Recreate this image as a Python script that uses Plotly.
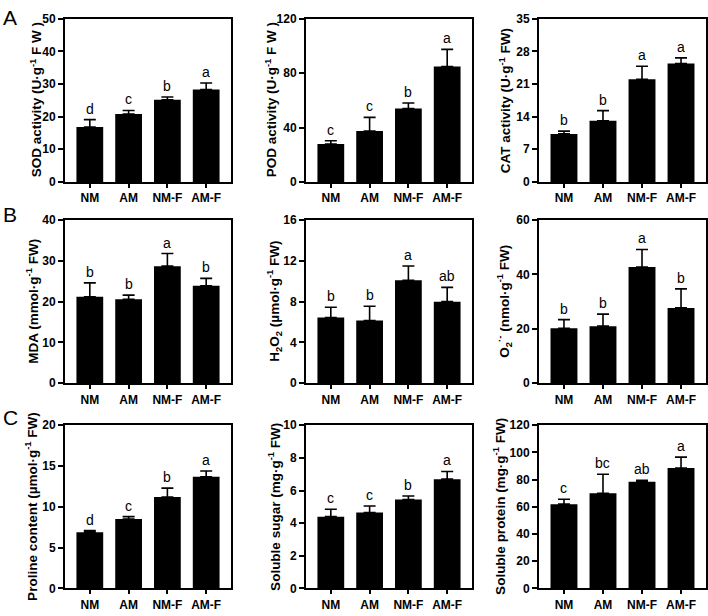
import plotly.graph_objects as go

categories = ["NM", "AM", "NM-F", "AM-F"]

sod_mean = [16.8, 20.8, 25.2, 28.3]
sod_err = [2.3, 1.1, 0.8, 2.0]
sod_letters = ["d", "c", "b", "a"]

pod_mean = [27.9, 37.5, 54.0, 84.8]
pod_err = [2.4, 10.0, 4.0, 12.7]
pod_letters = ["c", "c", "b", "a"]

cat_mean = [10.3, 13.1, 22.0, 25.4]
cat_err = [0.6, 2.2, 2.8, 1.2]
cat_letters = ["b", "b", "a", "a"]

mda_mean = [21.2, 20.6, 28.7, 23.9]
mda_err = [3.4, 1.0, 3.1, 1.8]
mda_letters = ["b", "b", "a", "b"]

h2o2_mean = [6.45, 6.15, 10.1, 8.0]
h2o2_err = [1.0, 1.4, 1.4, 1.4]
h2o2_letters = ["b", "b", "a", "ab"]

o2_mean = [20.2, 21.0, 42.7, 27.7]
o2_err = [3.2, 4.4, 6.5, 7.0]
o2_letters = ["b", "b", "a", "b"]

pro_mean = [6.9, 8.5, 11.2, 13.7]
pro_err = [0.2, 0.3, 1.1, 0.7]
pro_letters = ["d", "c", "b", "a"]

sugar_mean = [4.4, 4.65, 5.45, 6.7]
sugar_err = [0.45, 0.4, 0.22, 0.47]
sugar_letters = ["c", "c", "b", "a"]

prot_mean = [62.0, 70.0, 78.5, 88.6]
prot_err = [3.6, 14.0, 1.0, 8.0]
prot_letters = ["c", "bc", "ab", "a"]

titles = [
    "SOD activity (U·g<sup>-1</sup> F W )",
    "POD activity (U·g<sup>-1</sup> F W )",
    "CAT activity (U·g<sup>-1</sup> FW)",
    "MDA (mmol·g<sup>-1</sup> FW)",
    "H<sub>2</sub>O<sub>2</sub> (µmol·g<sup>-1</sup> FW)",
    "O<sub>2</sub><sup>·-</sup> (nmol·g<sup>-1</sup> FW)",
    "Proline content (µmol·g<sup>-1</sup> FW)",
    "Soluble sugar (mg·g<sup>-1</sup> FW)",
    "Soluble protein (mg·g<sup>-1</sup> FW)",
]
ymax = [50, 120, 35, 40, 16, 60, 20, 10, 120]
dticks = [10, 40, 7, 10, 4, 20, 5, 2, 20]

panels = [
    (sod_mean, sod_err, sod_letters),
    (pod_mean, pod_err, pod_letters),
    (cat_mean, cat_err, cat_letters),
    (mda_mean, mda_err, mda_letters),
    (h2o2_mean, h2o2_err, h2o2_letters),
    (o2_mean, o2_err, o2_letters),
    (pro_mean, pro_err, pro_letters),
    (sugar_mean, sugar_err, sugar_letters),
    (prot_mean, prot_err, prot_letters),
]

W, H = 708, 616
col_x = [(65, 231), (306, 472), (539, 706)]
row_y = [(12, 179), (218, 385), (428, 595)]
title_x = [[36, 271, 505], [32, 274, 504], [31, 274, 499]]
panel_letters = [("A", 10, 11), ("B", 10, 212), ("C", 10, 420)]

FONT = "Liberation Sans, Arial, sans-serif"

fig = go.Figure()
annotations = []
layout = {}
for i, (mean, err, letters) in enumerate(panels):
    r, c = divmod(i, 3)
    n = i + 1
    xa = "x" if n == 1 else f"x{n}"
    ya = "y" if n == 1 else f"y{n}"
    fig.add_trace(go.Bar(
        x=list(range(len(categories))), y=mean,
        xaxis=xa, yaxis=ya,
        marker=dict(color="black", line=dict(width=0)),
        width=0.69,
        error_y=dict(type="data", symmetric=False, array=err,
                     arrayminus=[0] * len(err), color="black",
                     thickness=1.6, width=6),
        showlegend=False,
    ))
    x0, x1 = col_x[c]
    y0, y1 = row_y[r]
    xkey = "xaxis" if n == 1 else f"xaxis{n}"
    ykey = "yaxis" if n == 1 else f"yaxis{n}"
    layout[xkey] = dict(
        domain=[x0 / W, x1 / W], anchor=ya, range=[-0.64, 3.64],
        tickmode="array", tickvals=list(range(len(categories))),
        ticktext=categories, showline=True, linecolor="black", linewidth=2,
        mirror=True, ticks="outside", ticklen=4, tickwidth=1.5,
        tickcolor="black", showgrid=False, zeroline=False,
        tickfont=dict(family=FONT, size=12, color="black", weight="bold"),
        fixedrange=True,
    )
    layout[ykey] = dict(
        domain=[1 - y1 / H, 1 - y0 / H], anchor=xa, range=[0, ymax[i]],
        dtick=dticks[i], tick0=0, showline=True, linecolor="black",
        linewidth=2, mirror=True, ticks="outside", ticklen=5, tickwidth=2,
        tickcolor="black", showgrid=False, zeroline=False,
        tickfont=dict(family=FONT, size=12, color="black", weight="bold"),
        fixedrange=True,
    )
    for k, lt in enumerate(letters):
        annotations.append(dict(
            x=k, y=mean[k] + err[k], xref=xa, yref=ya, text=lt,
            showarrow=False, yanchor="bottom", xanchor="center", yshift=1,
            font=dict(family=FONT, size=14, color="black"),
        ))
    annotations.append(dict(
        x=title_x[r][c] / W, y=1 - (y0 + y1) / 2 / H, xref="paper",
        yref="paper", text=titles[i], textangle=-90, showarrow=False,
        xanchor="center", yanchor="middle",
        font=dict(family=FONT, size=13.5, color="black", weight="bold"),
    ))

for lt, px, py in panel_letters:
    annotations.append(dict(
        x=px / W, y=1 - py / H, xref="paper", yref="paper", text=lt,
        showarrow=False, xanchor="center", yanchor="middle",
        font=dict(family=FONT, size=21, color="black"),
    ))

fig.update_layout(
    width=W, height=H, margin=dict(l=0, r=0, t=0, b=0),
    paper_bgcolor="white", plot_bgcolor="white",
    annotations=annotations, bargap=0.3, **layout,
)
fig.write_html(
    "out.html",
    config={"displayModeBar": False},
    post_script="document.body.style.margin='0';document.body.style.overflow='hidden';",
)
